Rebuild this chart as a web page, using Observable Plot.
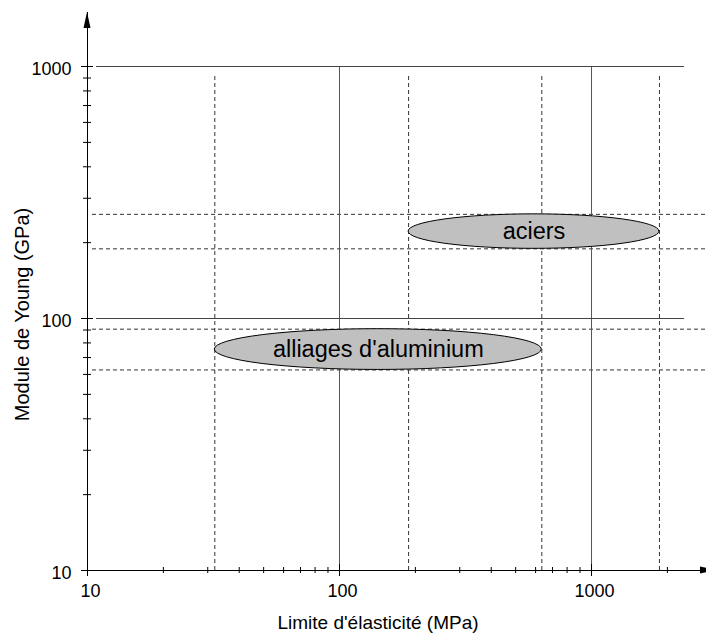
<!DOCTYPE html>
<html>
<head>
<meta charset="utf-8">
<script src="https://cdn.jsdelivr.net/npm/d3@7"></script>
<script src="https://cdn.jsdelivr.net/npm/@observablehq/plot@0.6"></script>
<style>
  html, body { margin: 0; padding: 0; background: #fff; overflow: hidden; }
</style>
</head>
<body>
<div id="chart"></div>
<script>
// ---- data ----
const materials = ["aciers", "alliages d'aluminium"];
const yieldMin = [188, 32];      // MPa
const yieldMax = [1860, 635];    // MPa
const youngMin = [189, 62.5];    // GPa
const youngMax = [259, 90.7];    // GPa

const xMajor = [10, 100, 1000];
const xMinor = [20, 30, 40, 50, 60, 70, 80, 90, 200, 300, 400, 500, 600, 700, 800, 900, 2000];
const yMajor = [10, 100, 1000];
const yMinor = [20, 30, 40, 50, 60, 70, 80, 90, 200, 300, 400, 500, 600, 700, 800, 900];
const gridValues = [100, 1000];

const xLabel = "Limite d'élasticité (MPa)";
const yLabel = "Module de Young (GPa)";

// ---- layout ----
const W = 706, H = 634;
const mL = 87, mR = 0, mT = 12, mB = 64;
const innerW = W - mL - mR, innerH = H - mT - mB;
const xMax = 2859, yMax = 1638;
const solidEndX = 2340, dashTopY = 900;
const font = "'Liberation Sans', Arial, Helvetica, sans-serif";

const ellipses = (index, scales) => {
  const g = d3.create("svg:g");
  materials.forEach((m, i) => {
    const x1 = scales.x(yieldMin[i]), x2 = scales.x(yieldMax[i]);
    const y1 = scales.y(youngMin[i]), y2 = scales.y(youngMax[i]);
    g.append("ellipse")
      .attr("cx", (x1 + x2) / 2).attr("cy", (y1 + y2) / 2)
      .attr("rx", Math.abs(x2 - x1) / 2).attr("ry", Math.abs(y2 - y1) / 2)
      .attr("fill", "#c0c0c0").attr("stroke", "#000").attr("stroke-width", 1);
  });
  return g.node();
};

const arrowHeads = (index, scales) => {
  const g = d3.create("svg:g").attr("fill", "#000");
  const x0 = scales.x(10), y0 = scales.y(10);
  const xt = scales.x(xMax) + 10, yt = scales.y(yMax);
  g.append("path").attr("d", `M${x0},${yt}L${x0 - 3.5},${yt + 16}L${x0 + 3.5},${yt + 16}Z`);
  g.append("path").attr("d", `M${xt},${y0}L${xt - 16},${y0 - 3.5}L${xt - 16},${y0 + 3.5}Z`);
  return g.node();
};

const chart = Plot.plot({
  width: W, height: H,
  marginLeft: mL, marginRight: mR, marginTop: mT, marginBottom: mB,
  x: {type: "log", domain: [10, xMax], axis: null},
  y: {type: "log", domain: [10, yMax], axis: null},
  style: {fontFamily: font, fontSize: "18px", background: "#fff", color: "#000", overflow: "visible"},
  marks: [
    // dashed bounds
    Plot.ruleX([...yieldMin, ...yieldMax], {x: d => d, y1: 10, y2: dashTopY, insetBottom: 4,
      stroke: "#333", strokeDasharray: "4,3"}),
    Plot.ruleY([...youngMin, ...youngMax], {y: d => d, x1: 10, x2: xMax, insetLeft: 5,
      stroke: "#333", strokeDasharray: "4,3"}),
    // solid grid
    Plot.ruleX(gridValues, {x: d => d, y1: 10, y2: 1000, stroke: "#555"}),
    Plot.ruleY(gridValues, {y: d => d, x1: 10, x2: solidEndX, insetLeft: 9, stroke: "#444"}),
    // ellipses + labels
    ellipses,
    Plot.text(materials, {
      x: (d, i) => Math.sqrt(yieldMin[i] * yieldMax[i]),
      y: (d, i) => Math.sqrt(youngMin[i] * youngMax[i]),
      text: d => d, fontSize: 23.5, fill: "#000", textAnchor: "middle"
    }),
    // axis lines
    Plot.ruleX([10], {x: d => d, stroke: "#000"}),
    Plot.ruleY([10], {y: d => d, stroke: "#000"}),
    // ticks
    Plot.tickX(xMinor, {x: d => d, insetTop: innerH - 3, insetBottom: -3, stroke: "#000"}),
    Plot.tickX(xMajor, {x: d => d, insetTop: innerH - 6, insetBottom: -6, stroke: "#000"}),
    Plot.tickY(yMinor, {y: d => d, insetLeft: -4, insetRight: innerW - 4, stroke: "#000"}),
    Plot.tickY(yMajor, {y: d => d, insetLeft: -6, insetRight: innerW - 6, stroke: "#000"}),
    // tick labels
    Plot.axisX({ticks: xMajor, tickSize: 0, tickPadding: 14, dx: 3, tickFormat: d => String(d),
      label: null, fontSize: 18}),
    Plot.axisY({ticks: yMajor, tickSize: 0, tickPadding: 16, dy: 3, tickFormat: d => String(d),
      label: null, fontSize: 18}),
    // axis titles
    Plot.text([xLabel], {frameAnchor: "bottom", text: d => d, textAnchor: "middle",
      dx: -19, dy: 58, fontSize: 19}),
    Plot.text([yLabel], {frameAnchor: "left", text: d => d, textAnchor: "middle", rotate: -90,
      dx: -65, dy: 23, fontSize: 20}),
    arrowHeads
  ]
});

document.getElementById("chart").appendChild(chart);
</script>
</body>
</html>
